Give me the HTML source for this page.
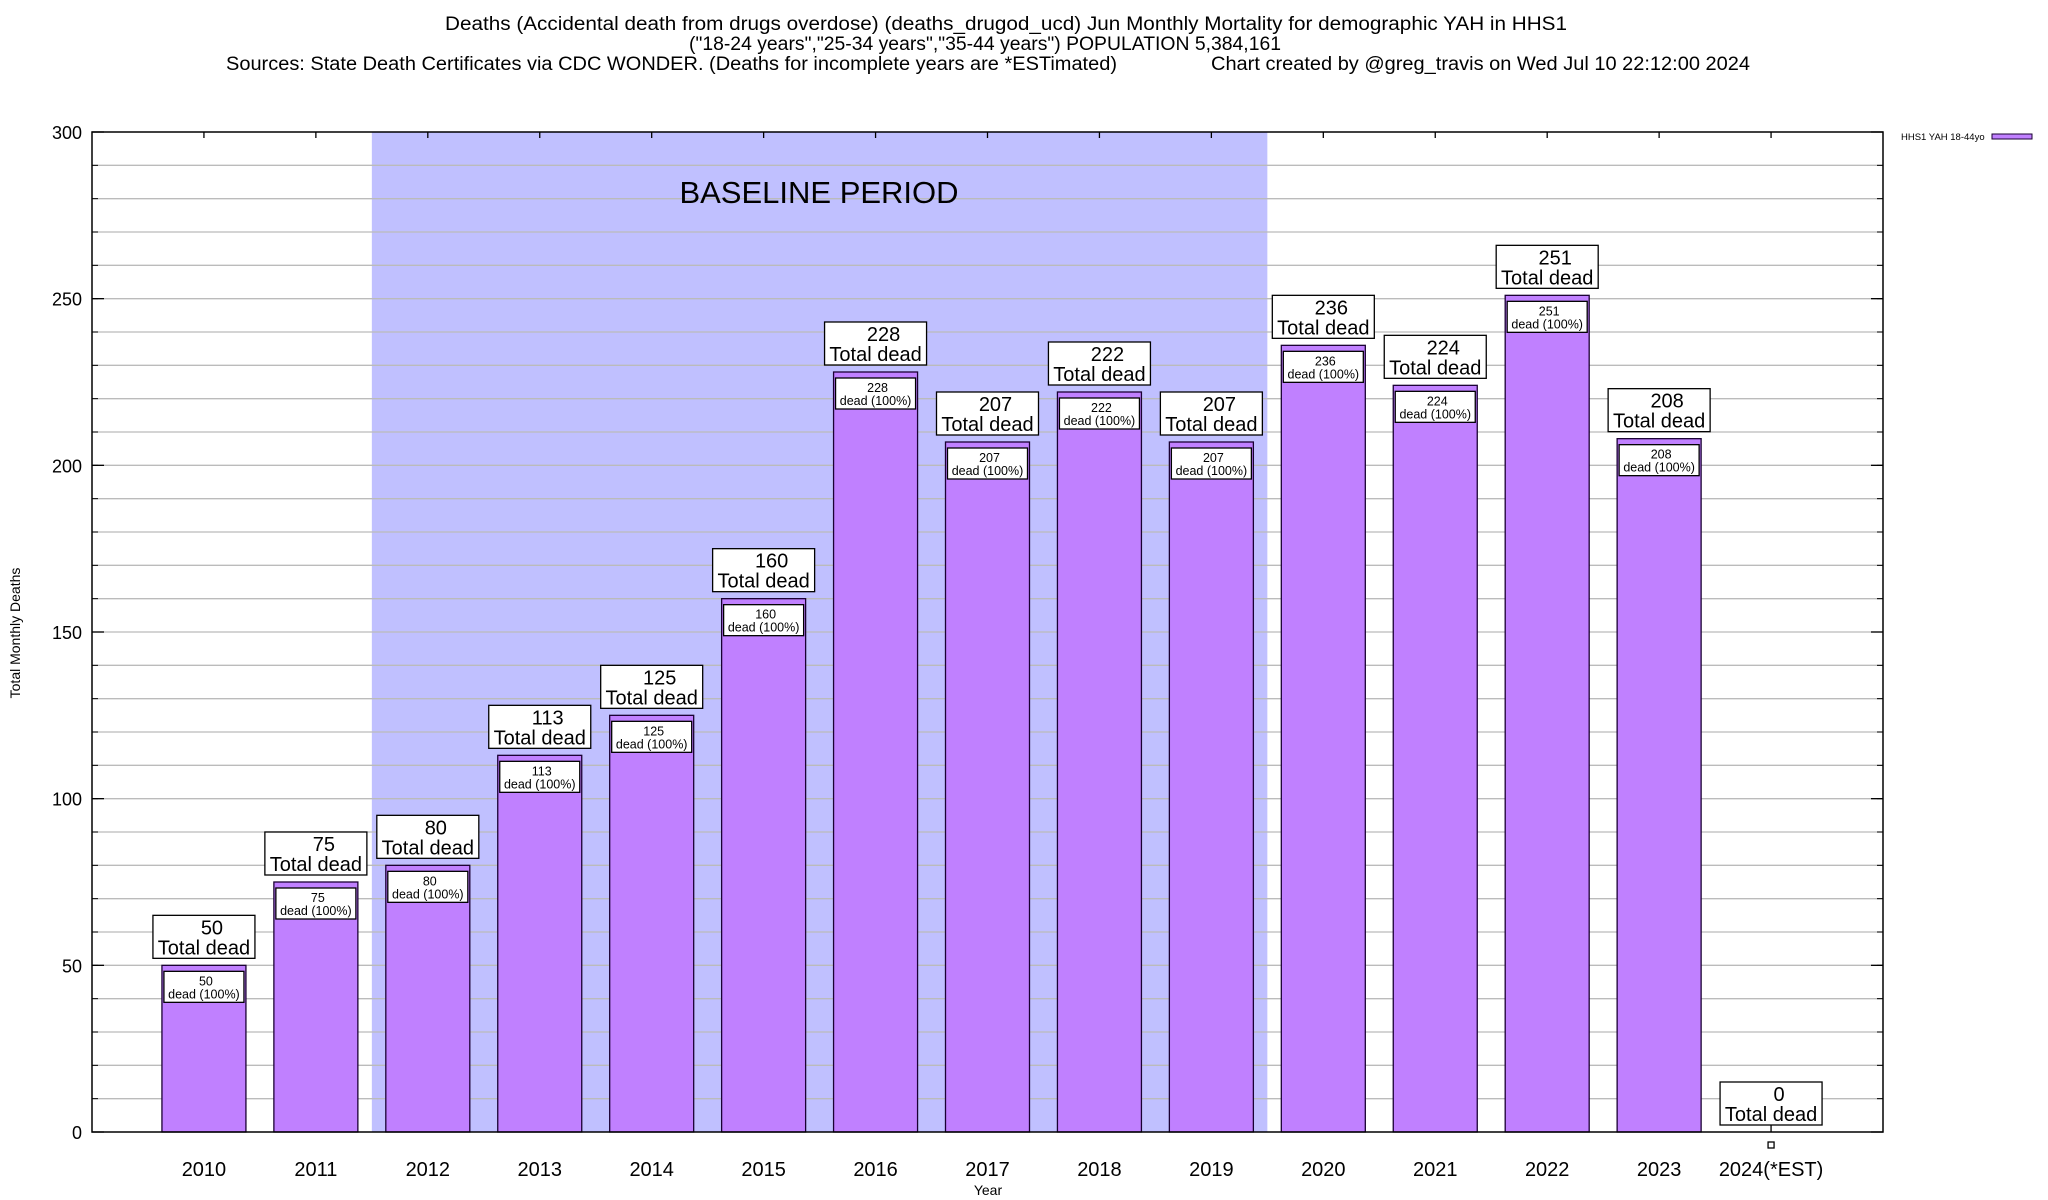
<!DOCTYPE html>
<html><head><meta charset="utf-8"><style>
html,body{margin:0;padding:0;background:#fff;}
svg{display:block;font-family:"Liberation Sans",sans-serif;}
</style></head><body>
<svg id="chart" width="2048" height="1200" viewBox="0 0 2048 1200" xmlns="http://www.w3.org/2000/svg">
<g font-size="19" fill="#000">
<text x="1006" y="30" text-anchor="middle" textLength="1122" lengthAdjust="spacingAndGlyphs">Deaths (Accidental death from drugs overdose) (deaths_drugod_ucd) Jun Monthly Mortality for demographic YAH in HHS1</text>
<text x="985" y="50" text-anchor="middle" textLength="592" lengthAdjust="spacingAndGlyphs">("18-24 years","25-34 years","35-44 years") POPULATION 5,384,161</text>
<text x="226" y="70" textLength="891" lengthAdjust="spacingAndGlyphs">Sources: State Death Certificates via CDC WONDER. (Deaths for incomplete years are *ESTimated)</text>
<text x="1211" y="70" textLength="539" lengthAdjust="spacingAndGlyphs">Chart created by @greg_travis on Wed Jul 10 22:12:00 2024</text>
</g>
<g id="plot"></g>
</svg>
<script>
const categories = ["2010","2011","2012","2013","2014","2015","2016","2017","2018","2019","2020","2021","2022","2023","2024(*EST)"];
const deaths = [50,75,80,113,125,160,228,207,222,207,236,224,251,208,0];
const yTicks = [0,50,100,150,200,250,300];
const baselineStart = 2;
const baselineEnd = 9;

const NS = "http://www.w3.org/2000/svg";
const L = 92, R = 1883, T = 132, B = 1132, YMAX = 300;
const slot = (R - L) / (categories.length + 1);
const xc = i => L + (i + 1) * slot;
const y = v => B - (v / YMAX) * (B - T);
const g = document.getElementById('plot');
function mk(tag, attrs, parent) {
  const e = document.createElementNS(NS, tag);
  for (const k in attrs) e.setAttribute(k, attrs[k]);
  (parent || g).appendChild(e);
  return e;
}
const shade = mk('rect', {x: xc(baselineStart) - slot/2, y: T, width: (baselineEnd - baselineStart + 1) * slot, height: B - T, fill: '#c0c0ff'});


for (let v = 10; v < YMAX; v += 10) {
  const ln = mk('line', {x1: L, x2: R, y1: y(v), y2: y(v), stroke: '#bbbbbb', 'stroke-width': 1.3});
  
  
  mk('line', {x1: L, x2: L + 6, y1: y(v), y2: y(v), stroke: '#000', 'stroke-width': 1});
  mk('line', {x1: R - 6, x2: R, y1: y(v), y2: y(v), stroke: '#000', 'stroke-width': 1});
}
const bt = mk('text', {x: 819, y: 203, 'font-size': 31, 'text-anchor': 'middle'});


bt.textContent = 'BASELINE PERIOD';
yTicks.forEach(v => {
  const t = mk('text', {x: 82, y: y(v) + 7, 'font-size': 18, 'text-anchor': 'end'});
  
  
  t.textContent = v;
  mk('line', {x1: L, x2: L + 12, y1: y(v), y2: y(v), stroke: '#000', 'stroke-width': 1.3});
  mk('line', {x1: R - 12, x2: R, y1: y(v), y2: y(v), stroke: '#000', 'stroke-width': 1.3});
});
categories.forEach((c, i) => {
  const cx = xc(i), v = deaths[i], top = y(v);
  mk('line', {x1: cx, x2: cx, y1: T, y2: T + 6, stroke: '#000', 'stroke-width': 1.3});
  if (v > 0) {
    const bar = mk('rect', {x: cx - 42, y: top, width: 84, height: B - top, fill: '#c080ff', stroke: '#1a0033', 'stroke-width': 1.3});
    
    
    const ib = mk('rect', {x: cx - 40, y: top + 6, width: 80, height: 31, fill: '#fff', stroke: '#000', 'stroke-width': 1.3});
    
    
    const t1 = mk('text', {x: cx + 2, y: top + 20, 'font-size': 12.5, 'text-anchor': 'middle'});
    
    
    t1.textContent = v;
    const t2 = mk('text', {x: cx, y: top + 33, 'font-size': 12.5, 'text-anchor': 'middle'});
    
    
    t2.textContent = 'dead (100%)';
  } else {
    const mark = mk('rect', {x: cx - 3, y: B + 10, width: 6, height: 6, fill: '#fff', stroke: '#000', 'stroke-width': 1.3});
    
    
    mk('line', {x1: cx, x2: cx, y1: B - 7, y2: B, stroke: '#000', 'stroke-width': 1.3});
  }
  const by = top - 7 - 43;
  const ob = mk('rect', {x: cx - 51, y: by, width: 102, height: 43, fill: '#fff', stroke: '#000', 'stroke-width': 1.3});
  
  
  const n = mk('text', {x: cx + 8, y: by + 19, 'font-size': 20, 'text-anchor': 'middle'});
  
  
  n.textContent = v;
  const td = mk('text', {x: cx, y: by + 39, 'font-size': 20, 'text-anchor': 'middle'});
  
  
  td.textContent = 'Total dead';
  const xl = mk('text', {x: cx, y: 1176, 'font-size': 20, 'text-anchor': 'middle'});
  
  
  xl.textContent = c;
});
const fr = mk('rect', {x: L, y: T, width: R - L, height: B - T, fill: 'none', stroke: '#000', 'stroke-width': 1.5});


const yt = mk('text', {x: 0, y: 0, 'font-size': 14, 'text-anchor': 'middle', transform: 'translate(20,633) rotate(-90)'});


yt.textContent = 'Total Monthly Deaths';
const xt = mk('text', {x: 988, y: 1195, 'font-size': 14, 'text-anchor': 'middle'});


xt.textContent = 'Year';
const lt = mk('text', {x: 1901, y: 140, 'font-size': 9.5});


lt.textContent = 'HHS1 YAH 18-44yo';
const ls = mk('rect', {x: 1992, y: 134, width: 40, height: 5, fill: '#c080ff', stroke: '#1a0033', 'stroke-width': 1});


</script>
</body></html>
